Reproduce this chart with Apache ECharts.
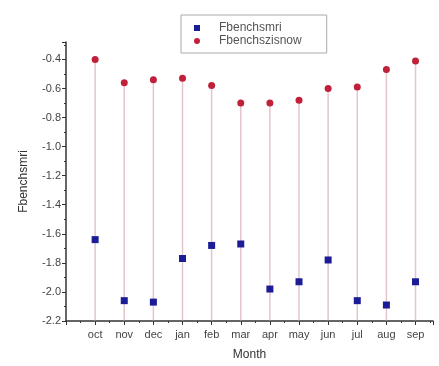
<!DOCTYPE html>
<html>
<head>
<meta charset="utf-8">
<script src="https://cdn.jsdelivr.net/npm/echarts@6/dist/echarts.min.js"></script>
<style>
html,body{margin:0;padding:0;background:#fff;}
#c{width:439px;height:366px;}
</style>
</head>
<body>
<div id="c"></div>
<script>
var months = ['oct','nov','dec','jan','feb','mar','apr','may','jun','jul','aug','sep'];
var fbenchsmri = [-1.64,-2.06,-2.07,-1.77,-1.68,-1.67,-1.98,-1.93,-1.78,-2.06,-2.09,-1.93];
var fbenchszisnow = [-0.40,-0.56,-0.54,-0.53,-0.58,-0.70,-0.70,-0.68,-0.60,-0.59,-0.47,-0.41];
var yTicks = [-2.2,-2.0,-1.8,-1.6,-1.4,-1.2,-1.0,-0.8,-0.6,-0.4];
var yMin = -2.2, yMax = -0.28;

function pairs(arr){ return arr.map(function(v,i){ return [i+1, v]; }); }

var chart = echarts.init(document.getElementById('c'), null, {renderer:'canvas'});
var font = 'Liberation Sans, Arial, sans-serif';
chart.setOption({
  animation:false,
  backgroundColor:'#fff',
  grid:{left:66,right:6,top:42,bottom:43},
  legend:{
    orient:'vertical', left:181, top:15,
    padding:[7,25,6,13], itemGap:1,
    borderColor:'#aaa', borderWidth:1,
    itemWidth:6, itemHeight:6,
    textStyle:{fontFamily:font,fontSize:12,color:'#555',padding:[0,0,0,14]},
    data:[{name:'Fbenchsmri',icon:'rect'},{name:'Fbenchszisnow',icon:'circle'}]
  },
  xAxis:{
    type:'value', min:0, max:12.6, interval:1,
    name:'Month', nameLocation:'middle', nameGap:28,
    nameTextStyle:{fontFamily:font,fontSize:12,color:'#333'},
    axisLine:{onZero:false,lineStyle:{color:'#333',width:1.5}},
    axisTick:{show:true,inside:false,length:4,lineStyle:{color:'#333'}},
    minorTick:{show:true,splitNumber:2,length:2,lineStyle:{color:'#333'}},
    splitLine:{show:false},
    axisLabel:{fontFamily:font,fontSize:11,color:'#444',margin:8,showMaxLabel:false,
      formatter:function(v){ var i=Math.round(v)-1; return (i>=0&&i<months.length&&Math.abs(v-Math.round(v))<1e-6)?months[i]:''; }}
  },
  yAxis:{
    type:'value', min:yMin, max:yMax, interval:0.2,
    name:'Fbenchsmri', nameLocation:'middle', nameGap:36,
    nameTextStyle:{fontFamily:font,fontSize:12,color:'#333'},
    axisLine:{show:true,onZero:false,lineStyle:{color:'#333',width:1.5}},
    axisTick:{show:true,inside:false,length:4,lineStyle:{color:'#333'}},
    minorTick:{show:true,splitNumber:2,length:2,lineStyle:{color:'#333'}},
    splitLine:{show:false},
    axisLabel:{fontFamily:font,fontSize:11,color:'#444',margin:5,showMaxLabel:false,
      formatter:function(v){ return v.toFixed(1); }}
  },
  series:[
    {
      name:'drops', type:'custom', silent:true, z:1,
      data:pairs(fbenchszisnow),
      renderItem:function(params, api){
        var top = api.coord([api.value(0), api.value(1)]);
        var bot = api.coord([api.value(0), yMin]);
        return {type:'line', shape:{x1:top[0],y1:top[1],x2:bot[0],y2:bot[1]},
          style:{stroke:'rgba(205,150,160,0.55)',lineWidth:1.5}};
      }
    },
    {
      name:'Fbenchsmri', type:'scatter', symbol:'rect', symbolSize:7, z:3,
      itemStyle:{color:'#1c1c96',opacity:1},
      data:pairs(fbenchsmri)
    },
    {
      name:'Fbenchszisnow', type:'scatter', symbol:'circle', symbolSize:7, z:3,
      itemStyle:{color:'#c0203a',opacity:1},
      data:pairs(fbenchszisnow)
    }
  ]
});
</script>
</body>
</html>
